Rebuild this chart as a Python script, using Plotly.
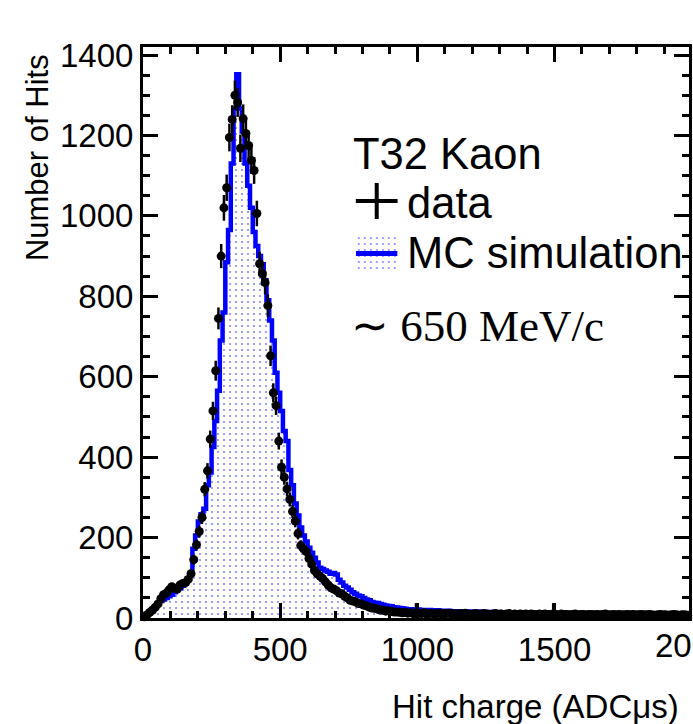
import numpy as np
import plotly.graph_objects as go

# ---------------- data (10-unit bins from 0 to 2000) ----------------
bin_edges = list(range(0, 2001, 10))

mc_counts = [
    5, 10, 16, 22, 28, 36, 42, 46, 50, 54,
    58, 64, 72, 74, 80, 86, 98, 112, 172, 205,
    240, 258, 272, 330, 362, 425, 490, 565, 690, 760,
    885, 965, 1130, 1267, 1352, 1267, 1210, 1130, 1075, 1020,
    960, 925, 900, 880, 840, 790, 740, 690, 610, 560,
    515, 465, 440, 368, 330, 285, 255, 225, 205, 190,
    175, 162, 150, 138, 125, 122, 118, 115, 110, 112,
    108, 95, 88, 80, 76, 70, 64, 60, 56, 54,
    50, 46, 44, 40, 38, 37, 35, 33, 31, 30,
    29, 27, 26, 25, 24, 23, 22, 22, 21, 20,
    21, 20, 20, 19, 20, 19, 18, 19, 18, 18,
    17, 18, 17, 17, 16, 17, 16, 16, 15, 16,
    16, 15, 15, 16, 15, 14, 15, 14, 14, 15,
    14, 14, 13, 14, 14, 13, 13, 14, 13, 13,
    13, 12, 13, 13, 12, 13, 12, 12, 13, 12,
    12, 12, 11, 12, 12, 11, 12, 11, 11, 12,
    11, 11, 12, 11, 11, 10, 11, 11, 10, 11,
    11, 10, 11, 10, 10, 11, 10, 10, 10, 11,
    10, 10, 9, 10, 10, 10, 9, 10, 10, 9,
    10, 9, 9, 10, 9, 9, 10, 9, 9, 9,
]

data_counts = [
    3, 8, 14, 20, 27, 35, 48, 58, 62, 70,
    78, 74, 72, 82, 86, 88, 96, 110, 145, 182,
    215, 250, 320, 366, 445, 515, 615, 745, 900, 1020,
    1070, 1195, 1240, 1300, 1282, 1168, 1242, 1205, 1175, 1138,
    1113, 1006, 881, 856, 834, 777, 652, 560, 528, 440,
    375, 350, 321, 295, 265, 241, 210, 180, 172, 165,
    148, 134, 118, 110, 104, 98, 90, 82, 75, 72,
    68, 62, 60, 54, 50, 44, 42, 40, 36, 35,
    32, 30, 27, 25, 24, 22, 20, 19, 17, 18,
    16, 15, 15, 14, 13, 14, 12, 13, 11, 10,
    12, 11, 13, 10, 12, 11, 10, 12, 11, 10,
    11, 12, 10, 11, 9, 11, 10, 12, 10, 9,
    10, 11, 9, 10, 11, 10, 9, 10, 11, 9,
    10, 9, 10, 11, 9, 10, 9, 10, 8, 10,
    9, 10, 9, 8, 10, 9, 10, 9, 8, 10,
    9, 8, 10, 9, 9, 8, 9, 10, 8, 9,
    9, 8, 9, 9, 8, 9, 8, 9, 10, 8,
    8, 9, 8, 9, 8, 8, 9, 8, 9, 8,
    8, 9, 8, 8, 9, 8, 7, 8, 9, 8,
    8, 7, 8, 9, 8, 7, 8, 8, 7, 8,
]
# a couple of bins with visibly larger error bars
data_err_override = {99: 27, 149: 27}

x_tick_vals = [0, 500, 1000, 1500]
x_tick_extra = 2000
y_tick_vals = [0, 200, 400, 600, 800, 1000, 1200, 1400]

x_title = "Hit charge (ADCμs)"
y_title = "Number of Hits"
legend_title = "T32 Kaon"
legend_data = "data"
legend_mc = "MC simulation"
momentum_label = "∼ 650 MeV/c"

# ---------------- layout geometry ----------------
W, H = 693, 724
L, R, T, B = 143, 1, 47, 106
XMAX, YMAX = 1990, 1420
pw, ph = W - L - R, H - T - B


def px(xp):
    return (xp - L) / pw


def py(yp):
    return (H - B - yp) / ph


SANS = "Liberation Sans, Arial, Helvetica, sans-serif"
SERIF = "Liberation Serif, Times New Roman, serif"
BLUE = "#0000ff"

bin_centers = [(bin_edges[i] + bin_edges[i + 1]) / 2 for i in range(len(data_counts))]
data_err = np.sqrt(np.array(data_counts, dtype=float))
for k, v in data_err_override.items():
    data_err[k] = v

fig = go.Figure()

pattern = dict(shape=".", fgcolor=BLUE, bgcolor="rgba(255,255,255,0)", size=6, solidity=0.09)

# MC histogram
fig.add_trace(go.Scatter(
    x=bin_edges, y=mc_counts + [mc_counts[-1]],
    mode="lines", line=dict(color=BLUE, width=4.5, shape="hv"),
    fill="tozeroy", fillcolor="rgba(0,0,255,0.0)", fillpattern=pattern,
    hoverinfo="skip", showlegend=False,
))

# data points
fig.add_trace(go.Scatter(
    x=bin_centers, y=data_counts, mode="markers",
    marker=dict(color="black", size=9),
    error_y=dict(type="data", array=data_err.tolist(), visible=True,
                 color="black", thickness=2.5, width=0),
    cliponaxis=False, showlegend=False,
))

# legend MC symbol drawn on a tiny auxiliary axis pair
fig.add_trace(go.Scatter(
    x=[0, 1, 1, 0, 0], y=[0, 0, 1, 1, 0], xaxis="x2", yaxis="y2",
    mode="lines", line=dict(width=0, color="rgba(0,0,0,0)"),
    fill="toself", fillcolor="rgba(0,0,255,0.0)", fillpattern=pattern,
    hoverinfo="skip", showlegend=False,
))
fig.add_trace(go.Scatter(
    x=[0, 1], y=[0.5, 0.5], xaxis="x2", yaxis="y2", mode="lines",
    line=dict(color=BLUE, width=5), hoverinfo="skip", showlegend=False,
))

axis_common = dict(
    showgrid=False, zeroline=False, showline=True, linecolor="black",
    linewidth=3, ticks="inside", tickcolor="black", tickwidth=3, ticklen=15,
    mirror="allticks", layer="above traces",
    tickfont=dict(family=SANS, size=33, color="black"),
)

fig.update_layout(
    width=W, height=H,
    margin=dict(l=L, r=R, t=T, b=B, pad=0),
    paper_bgcolor="white", plot_bgcolor="white",
    showlegend=False,
    xaxis=dict(range=[0, XMAX], tickvals=x_tick_vals, ticktext=[str(v) for v in x_tick_vals],
               minor=dict(ticks="inside", ticklen=7, tickwidth=3, tickcolor="black", dtick=100, tick0=0),
               **axis_common),
    yaxis=dict(range=[0, YMAX], tickvals=y_tick_vals, ticktext=[str(v) for v in y_tick_vals],
               minor=dict(ticks="inside", ticklen=7, tickwidth=3, tickcolor="black", dtick=50, tick0=0),
               **axis_common),
    xaxis2=dict(domain=[px(357), px(399)], range=[0, 1], visible=False, anchor="y2", fixedrange=True),
    yaxis2=dict(domain=[py(272), py(235)], range=[0, 1], visible=False, anchor="x2", fixedrange=True),
)

# data legend "+" symbol
fig.add_shape(type="line", xref="paper", yref="paper", x0=px(357), x1=px(399), y0=py(201), y1=py(201),
              line=dict(color="black", width=4))
fig.add_shape(type="line", xref="paper", yref="paper", x0=px(378), x1=px(378), y0=py(183), y1=py(219),
              line=dict(color="black", width=4))

ann = []
ann.append(dict(text=legend_title, x=px(352), y=py(154), xanchor="left", yanchor="middle",
                font=dict(family=SANS, size=43.5, color="black")))
ann.append(dict(text=legend_data, x=px(406), y=py(203), xanchor="left", yanchor="middle",
                font=dict(family=SANS, size=43.5, color="black")))
ann.append(dict(text=legend_mc, x=px(406), y=py(253), xanchor="left", yanchor="middle",
                font=dict(family=SANS, size=43.5, color="black")))
ann.append(dict(text=momentum_label, x=px(350), y=py(326), xanchor="left", yanchor="middle",
                font=dict(family=SERIF, size=45, color="black")))
ann.append(dict(text=y_title, x=px(37), y=py(52), xanchor="center", yanchor="top", textangle=-90,
                font=dict(family=SANS, size=31, color="black")))
ann.append(dict(text=x_title, x=px(684), y=py(706), xanchor="right", yanchor="middle",
                font=dict(family=SANS, size=33, color="black")))
ann.append(dict(text=str(x_tick_extra), x=x_tick_extra / XMAX, y=py(645), xanchor="center", yanchor="middle",
                font=dict(family=SANS, size=33, color="black")))
for a in ann:
    a.update(xref="paper", yref="paper", showarrow=False)
fig.update_layout(annotations=ann)

fig.write_html("out.html")
